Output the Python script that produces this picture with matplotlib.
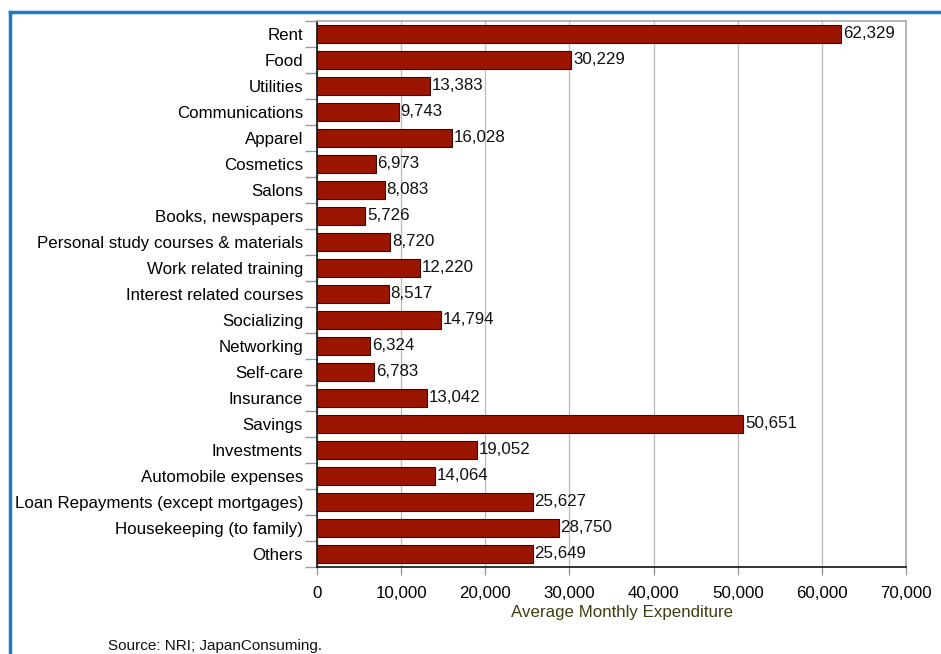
import matplotlib.pyplot as plt
from matplotlib.lines import Line2D

plt.rcParams['font.family'] = ['Liberation Sans', 'DejaVu Sans']

categories = ['Rent', 'Food', 'Utilities', 'Communications', 'Apparel', 'Cosmetics',
              'Salons', 'Books, newspapers', 'Personal study courses & materials',
              'Work related training', 'Interest related courses', 'Socializing',
              'Networking', 'Self-care', 'Insurance', 'Savings', 'Investments',
              'Automobile expenses', 'Loan Repayments (except mortgages)',
              'Housekeeping (to family)', 'Others']
values = [62329, 30229, 13383, 9743, 16028, 6973, 8083, 5726, 8720, 12220, 8517,
          14794, 6324, 6783, 13042, 50651, 19052, 14064, 25627, 28750, 25649]
xticks = [0, 10000, 20000, 30000, 40000, 50000, 60000, 70000]

W, H = 941, 654
fs = 12.2
fig = plt.figure(figsize=(W / 100, H / 100), dpi=100)

# blue frame around the chart
fig.add_artist(Line2D([9.5 / W, 9.5 / W], [0, 1 - 12 / H], transform=fig.transFigure,
                      color='#1a7dc4', lw=2.5))
fig.add_artist(Line2D([9.5 / W, 1], [1 - 12 / H, 1 - 12 / H], transform=fig.transFigure,
                      color='#1a7dc4', lw=2.5))

ax = fig.add_axes([317 / W, 1 - 567 / H, (906 - 317) / W, (567 - 21) / H])

n = len(categories)
ypos = list(range(n))
ax.barh(ypos, values, height=0.7, color='#9b1500', edgecolor='#3a0a00', linewidth=0.8,
        zorder=3)
for y, v in zip(ypos, values):
    ax.text(v + 200, y, f'{v:,}', va='center', ha='left', fontsize=fs, color='#111111',
            zorder=4)

ax.set_ylim(n - 0.5, -0.5)
ax.set_xlim(0, 70000)
ax.set_yticks(ypos)
ax.set_yticklabels(categories, fontsize=fs)
ax.tick_params(axis='y', length=0, pad=10)
# gray separator ticks between categories
ax.set_yticks([i - 0.5 for i in range(n + 1)], minor=True)
ax.tick_params(axis='y', which='minor', length=9, color='#999999', width=1)

ax.set_xticks(xticks)
ax.set_xticklabels([f'{t:,}' for t in xticks], fontsize=fs)
ax.tick_params(axis='x', length=6, color='#999999', width=1, pad=8)
ax.grid(axis='x', color='#bbbbbb', lw=0.9, zorder=0)
ax.set_xlabel('Average Monthly Expenditure', fontsize=fs, color='#3f3f12')
ax.xaxis.set_label_coords(0.518, -38 / 546, transform=ax.transAxes)

for s in ['top', 'right']:
    ax.spines[s].set_color('#aaaaaa')
    ax.spines[s].set_linewidth(1.2)
for s in ['left', 'bottom']:
    ax.spines[s].set_color('#111111')
    ax.spines[s].set_linewidth(1.2)

fig.text(108 / W, 1 - 646 / H, 'Source: NRI; JapanConsuming.', fontsize=11,
         va='center', ha='left', color='#111111')

fig.savefig('out.png', dpi=100)
